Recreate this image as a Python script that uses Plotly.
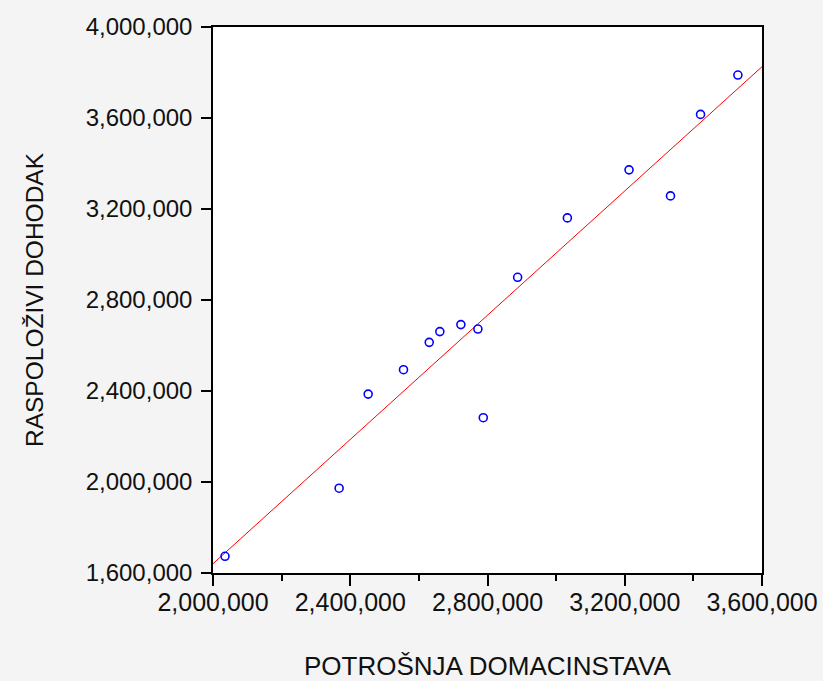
import numpy as np
import plotly.graph_objects as go

# Household consumption (x) and disposable income (y)
potrosnja = [2035000, 2367600, 2452200, 2555200, 2630200, 2661100, 2722400,
             2772000, 2787700, 2887800, 3032800, 3212500, 3333300, 3420900, 3529700]
dohodak = [1673500, 1972700, 2386400, 2493700, 2613900, 2661000, 2691800,
           2672400, 2282500, 2899900, 3160900, 3372100, 3257600, 3615800, 3788800]

x_ticks = [2000000, 2400000, 2800000, 3200000, 3600000]
y_ticks = [1600000, 2000000, 2400000, 2800000, 3200000, 3600000, 4000000]

x_range = [2000000, 3600000]
y_range = [1600000, 4000000]

# OLS regression line from the data
slope, intercept = np.polyfit(potrosnja, dohodak, 1)
fit_x = np.array(x_range, dtype=float)
fit_y = intercept + slope * fit_x

fig = go.Figure()
fig.add_trace(go.Scatter(x=fit_x, y=fit_y, mode="lines",
                         line=dict(color="#ff0000", width=1), hoverinfo="skip",
                         showlegend=False))
fig.add_trace(go.Scatter(x=potrosnja, y=dohodak, mode="markers",
                         marker=dict(symbol="circle-open", size=8, color="#0000ff",
                                     line=dict(width=1.6, color="#0000ff")),
                         showlegend=False))

fam = "Liberation Sans, Arial"
fig.update_layout(
    width=823, height=681,
    margin=dict(l=213, r=61, t=27, b=108),
    paper_bgcolor="#f4f4f4",
    plot_bgcolor="#ffffff",
    xaxis=dict(range=x_range, tickvals=x_ticks, automargin=False,
               ticktext=[f"{v:,}" for v in x_ticks],
               showgrid=False, zeroline=False,
               showline=True, linecolor="black", linewidth=1.5, mirror=True,
               ticks="outside", ticklen=11, tickwidth=1.5, tickcolor="black",
               minor=dict(dtick=200000, ticks="outside", ticklen=6, tickwidth=1.5,
                          tickcolor="black", showgrid=False),
               tickfont=dict(family=fam, size=25, color="#111111"), ticklabelstandoff=-5,
               title=dict(text="POTROŠNJA DOMACINSTAVA",
                          font=dict(family=fam, size=26, color="#111111"), standoff=46)),
    yaxis=dict(range=y_range, tickvals=y_ticks, automargin=False,
               ticktext=[f"{v:,}" for v in y_ticks],
               showgrid=False, zeroline=False,
               showline=True, linecolor="black", linewidth=1.5, mirror=True,
               ticks="outside", ticklen=10, tickwidth=1.5, tickcolor="black",
               tickfont=dict(family=fam, size=24, color="#111111"), ticklabelstandoff=4,
               title=dict(text="RASPOLOŽIVI DOHODAK",
                          font=dict(family=fam, size=24.5, color="#111111"), standoff=35)),
)

fig.write_html("out.html", config={"displayModeBar": False},
               post_script="document.body.style.margin='0';document.body.style.background='#f4f4f4';")
